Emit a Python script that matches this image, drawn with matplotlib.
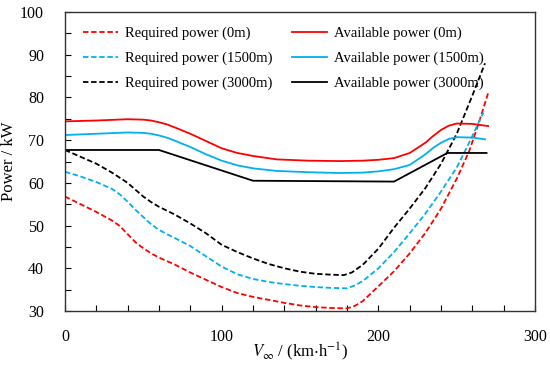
import matplotlib
matplotlib.use('Agg')
import matplotlib.pyplot as plt
from matplotlib.ticker import MultipleLocator

plt.rcParams['font.family'] = ['Liberation Serif', 'DejaVu Serif']
plt.rcParams['mathtext.fontset'] = 'stix'

# Required power (dashed)
v_req_0 = [0, 10, 20, 30, 35, 40, 45, 50, 55, 60, 70, 80, 90, 100, 110, 120, 130, 140, 150,
           160, 170, 180, 185, 190, 200, 210, 220, 230, 240, 250, 258, 264, 270]
p_req_0 = [56.8, 55.0, 53.2, 51.2, 49.9, 48.0, 46.1, 44.7, 43.5, 42.5, 40.9, 39.0, 37.3,
           35.6, 34.2, 33.3, 32.6, 31.9, 31.3, 30.9, 30.7, 30.6, 31.2, 32.3, 35.8, 39.3,
           43.5, 48.3, 54.0, 61.0, 67.5, 74.0, 81.0]

v_req_1500 = [0, 10, 20, 30, 35, 40, 45, 50, 55, 60, 65, 70, 80, 90, 100, 110, 120, 130,
              140, 150, 160, 170, 180, 185, 190, 200, 210, 220, 230, 240, 250, 258, 267]
p_req_1500 = [62.6, 61.5, 60.2, 58.6, 57.3, 55.6, 53.7, 52.0, 50.3, 49.0, 48.0, 47.1,
              45.2, 42.8, 40.4, 38.6, 37.5, 36.8, 36.3, 35.9, 35.6, 35.4, 35.3, 36.0,
              37.0, 40.0, 43.8, 48.2, 52.8, 58.0, 63.6, 69.5, 76.5]

v_req_3000 = [0, 10, 20, 30, 40, 45, 50, 55, 60, 70, 80, 90, 100, 110, 120, 130, 140, 150,
              160, 170, 178, 183, 190, 200, 210, 220, 230, 240, 250, 260, 268]
p_req_3000 = [67.7, 66.1, 64.5, 62.4, 60.0, 58.4, 56.8, 55.5, 54.4, 52.6, 50.5, 48.2,
              45.5, 43.8, 42.3, 41.0, 40.0, 39.2, 38.7, 38.5, 38.4, 39.0, 40.8, 44.6,
              49.5, 54.0, 58.8, 64.5, 71.5, 80.5, 88.0]

# Available power (solid)
v_av_0 = [0, 20, 40, 50, 55, 60, 65, 70, 80, 90, 100, 110, 120, 135, 155, 175, 190, 200,
          210, 220, 230, 235, 240, 245, 250, 260, 270]
p_av_0 = [74.4, 74.6, 74.9, 74.8, 74.6, 74.2, 73.7, 73.0, 71.5, 69.8, 68.1, 67.0, 66.3,
          65.5, 65.2, 65.1, 65.2, 65.4, 65.8, 67.0, 69.4, 71.0, 72.4, 73.4, 73.9, 73.8,
          73.3]

v_av_1500 = [0, 20, 40, 50, 55, 60, 65, 70, 80, 90, 100, 110, 120, 135, 155, 175, 190,
             200, 210, 220, 230, 235, 240, 245, 250, 260, 268]
p_av_1500 = [71.2, 71.5, 71.8, 71.7, 71.5, 71.1, 70.6, 69.9, 68.4, 66.7, 65.2, 64.1,
             63.4, 62.8, 62.5, 62.3, 62.4, 62.7, 63.2, 64.2, 66.7, 68.2, 69.4, 70.3,
             70.7, 70.6, 70.2]

v_av_3000 = [0, 60, 120, 210, 244, 269]
p_av_3000 = [67.7, 67.7, 60.5, 60.3, 67.0, 67.0]

red = '#FF0000'
cyan = '#00B0F0'
black = '#000000'

fig = plt.figure(figsize=(5.5, 3.65), dpi=100)
ax = fig.add_axes([0.118, 0.148, 0.855, 0.819])

dash = (0, (3, 1.5))
lw = 1.3
ax.plot(v_req_0, p_req_0, color=red, lw=lw, linestyle=dash, label='Required power (0m)')
ax.plot(v_req_1500, p_req_1500, color=cyan, lw=lw, linestyle=dash, label='Required power (1500m)')
ax.plot(v_req_3000, p_req_3000, color=black, lw=lw, linestyle=dash, label='Required power (3000m)')
ax.plot(v_av_0, p_av_0, color=red, lw=lw, label='Available power (0m)')
ax.plot(v_av_1500, p_av_1500, color=cyan, lw=lw, label='Available power (1500m)')
ax.plot(v_av_3000, p_av_3000, color=black, lw=lw, label='Available power (3000m)')

ax.set_xlim(0, 300)
ax.set_ylim(30, 100)
ax.xaxis.set_major_locator(MultipleLocator(100))
ax.xaxis.set_minor_locator(MultipleLocator(20))
ax.yaxis.set_major_locator(MultipleLocator(10))
ax.yaxis.set_minor_locator(MultipleLocator(5))
ax.tick_params(axis='both', which='both', direction='in', length=4, width=0.8,
               top=False, right=False, labelsize=11.5)
ax.tick_params(axis='x', which='major', pad=13)
ax.tick_params(axis='y', which='major', pad=15)

for s in ax.spines.values():
    s.set_linewidth(1.0)
    s.set_color('#333333')

ax.set_xlabel(r'$V_{\infty}$ / (km$\cdot$h$^{-1}$)', fontsize=12, labelpad=-3)
ax.set_ylabel('Power / kW', fontsize=12, labelpad=2)

ax.legend(ncol=2, frameon=False, loc='upper left', bbox_to_anchor=(0.038, 0.952),
          borderaxespad=0, borderpad=0, fontsize=10.5, handlelength=2.4,
          handletextpad=0.5, columnspacing=1.3, labelspacing=0.8)

fig.savefig('out.png', dpi=100)
plt.close(fig)
